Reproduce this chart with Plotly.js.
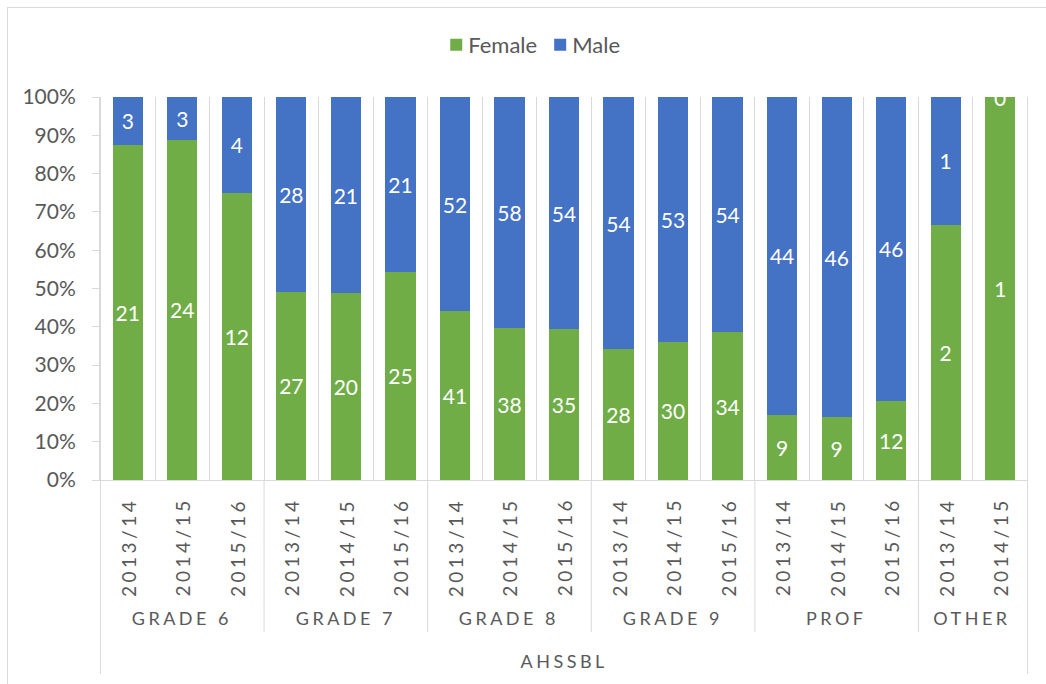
<!DOCTYPE html>
<html>
<head>
<meta charset="utf-8">
<script src="https://cdn.plot.ly/plotly-3.0.1.min.js"></script>
<style>
  html, body { margin: 0; padding: 0; background: #fff; }
  #wrap { position: relative; width: 1046px; height: 684px; overflow: hidden; }
  #chart { width: 1046px; height: 684px; }
  #frame { position: absolute; left: 7px; top: 7px; width: 1100px; height: 700px;
           border: 1px solid #d9d9d9; pointer-events: none; }
</style>
</head>
<body>
<div id="wrap"><div id="chart"></div><div id="frame"></div></div>
<script>
// ---- data ----
const groups = ['GRADE 6','GRADE 6','GRADE 6','GRADE 7','GRADE 7','GRADE 7',
                'GRADE 8','GRADE 8','GRADE 8','GRADE 9','GRADE 9','GRADE 9',
                'PROF','PROF','PROF','OTHER','OTHER'];
const years = ['2013/14','2014/15','2015/16','2013/14','2014/15','2015/16',
               '2013/14','2014/15','2015/16','2013/14','2014/15','2015/16',
               '2013/14','2014/15','2015/16','2013/14','2014/15'];
const female = [21,24,12,27,20,25,41,38,35,28,30,34,9,9,12,2,1];
const male   = [3,3,4,28,21,21,52,58,54,54,53,54,44,46,46,1,0];
const outerLabel = 'AHSSBL';
const seriesNames = ['Female','Male'];
const seriesColors = ['#70AD47','#4472C4'];

// ---- build ----
const keys = groups.map((g,i) => g + ' ' + years[i]);
const FONT = 'Lato, "Open Sans", sans-serif';
const GRAY = '#595959';
const LINE = '#d9d9d9';

const PLOT_BOTTOM = 480, PLOT_H = 383;
const py = p => (PLOT_BOTTOM - p) / PLOT_H;   // pixel y -> paper y

function barTrace(name, vals, color) {
  return {
    type: 'bar', name: name, x: keys, y: vals,
    marker: { color: color, line: { width: 0 } },
    text: vals.map(String), textposition: 'inside', insidetextanchor: 'middle',
    textfont: { family: FONT, size: 21, color: '#ffffff' },
    constraintext: 'none', hoverinfo: 'skip'
  };
}
const data = [
  barTrace(seriesNames[0], female, seriesColors[0]),
  barTrace(seriesNames[1], male, seriesColors[1])
];

const annotations = [];
const shapes = [];
// year labels
keys.forEach((k,i) => {
  annotations.push({
    x: k, xref: 'x', y: py(547), yref: 'paper', text: years[i], showarrow: false,
    textangle: -90, xanchor: 'center', yanchor: 'middle',
    font: { family: FONT, size: 19, color: GRAY }, name: 'yr'
  });
});
// zero-value labels (drawn at the top of the stack)
male.forEach((v,i) => {
  if (v === 0) {
    annotations.push({
      x: keys[i], xref: 'x', y: 100, yref: 'y', text: String(v), showarrow: false,
      xanchor: 'center', yanchor: 'middle',
      font: { family: FONT, size: 21, color: '#ffffff' }
    });
  }
});
// group labels and dividers
const groupNames = [], groupStart = [], groupEnd = [];
groups.forEach((g,i) => {
  if (i === 0 || groups[i-1] !== g) { groupNames.push(g); groupStart.push(i); groupEnd.push(i); }
  else groupEnd[groupEnd.length-1] = i;
});
groupNames.forEach((g,j) => {
  annotations.push({
    x: (groupStart[j] + groupEnd[j]) / 2, xref: 'x', y: py(618), yref: 'paper',
    text: g, showarrow: false, xanchor: 'center', yanchor: 'middle',
    font: { family: FONT, size: 18, color: GRAY }, name: 'grp'
  });
  if (j > 0) {
    shapes.push({ type: 'line', xref: 'x', yref: 'paper',
      x0: groupStart[j] - 0.5, x1: groupStart[j] - 0.5, y0: 0, y1: py(632),
      line: { color: LINE, width: 1 } });
  }
});
// outer label and outer boundary lines
annotations.push({
  x: (keys.length - 1) / 2, xref: 'x', y: py(661), yref: 'paper',
  text: outerLabel, showarrow: false, xanchor: 'center', yanchor: 'middle',
  font: { family: FONT, size: 18, color: GRAY }, name: 'grp'
});
[-0.5, keys.length - 0.5].forEach(b => {
  shapes.push({ type: 'line', xref: 'x', yref: 'paper', x0: b, x1: b, y0: py(674), y1: 1,
    line: { color: LINE, width: 1 } });
});

const layout = {
  width: 1046, height: 684,
  margin: { l: 100, r: 18, t: 97, b: 204 },
  paper_bgcolor: '#ffffff', plot_bgcolor: '#ffffff',
  font: { family: FONT, color: GRAY, size: 21 },
  barmode: 'stack', barnorm: 'percent', bargap: 0.445,
  showlegend: true,
  legend: { orientation: 'h', traceorder: 'normal', xref: 'container', yref: 'container',
    x: 0.516, xanchor: 'center', y: 1 - 45/684, yanchor: 'middle',
    font: { family: FONT, size: 22, color: GRAY }, itemwidth: 30 },
  xaxis: { type: 'category', showticklabels: false, ticks: '', tickson: 'boundaries',
    showgrid: true, gridcolor: LINE, gridwidth: 1, showline: true, linecolor: LINE,
    linewidth: 1, zeroline: false, fixedrange: true },
  yaxis: { range: [0, 100], dtick: 10, ticksuffix: '%', showgrid: false, zeroline: false,
    showline: true, linecolor: LINE, linewidth: 1, ticks: 'outside', ticklen: 7,
    tickcolor: LINE, tickfont: { family: FONT, size: 21, color: GRAY },
    ticklabelstandoff: 12, fixedrange: true },
  annotations: annotations,
  shapes: shapes
};

function tweak(gd) {
  gd.querySelectorAll('.annotation').forEach(a => {
    const idx = +a.getAttribute('data-index');
    const ann = gd.layout.annotations[idx];
    if (ann && (ann.name === 'yr' || ann.name === 'grp')) {
      const t = a.querySelector('.annotation-text');
      if (t) t.style.letterSpacing = '3.5px';
    }
  });
  // tighter legend: text closer to its swatch, as in the original
  const items = gd.querySelectorAll('.legend .traces');
  items.forEach((it, i) => {
    if (it.dataset.tweaked) return;
    it.dataset.tweaked = '1';
    const t = it.querySelector('.legendtext');
    if (t) t.setAttribute('x', 32);
    const m = /translate\(([-\d.]+)[ ,]*([-\d.]+)?\)/.exec(it.getAttribute('transform') || '');
    if (m && i > 0) {
      it.setAttribute('transform', 'translate(' + (parseFloat(m[1]) - 10 * i) + ',' + (parseFloat(m[2] || 0)) + ')');
    }
  });
}
Plotly.newPlot('chart', data, layout, { displayModeBar: false, staticPlot: true }).then(gd => {
  tweak(gd);
  gd.on('plotly_afterplot', () => tweak(gd));
});
</script>
</body>
</html>
